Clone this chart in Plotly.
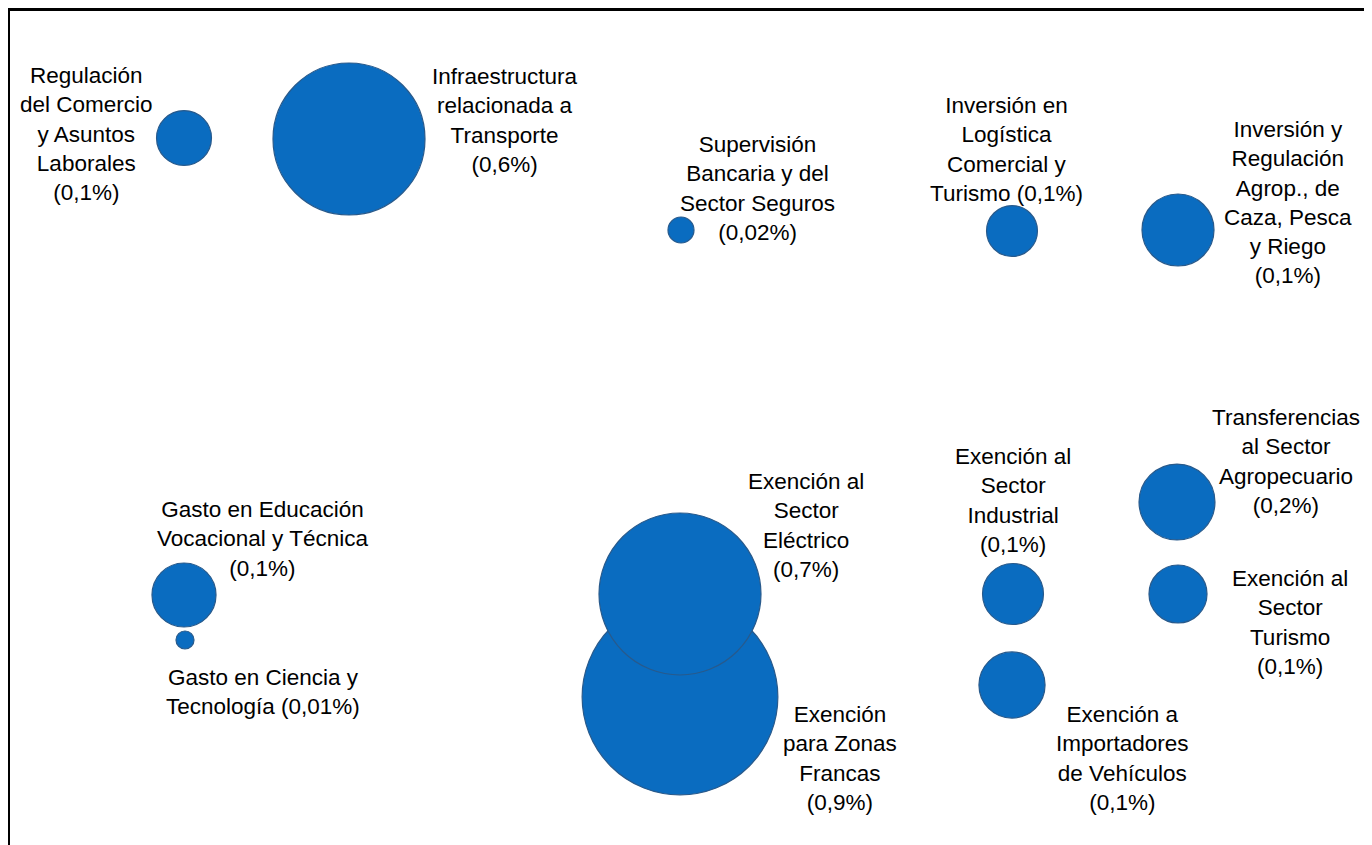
import plotly.graph_objects as go

# Programas y su peso estimado (% del PIB), posiciones en el mapa de burbujas
nombres = [
    "Regulación<br>del Comercio<br>y Asuntos<br>Laborales<br>(0,1%)",
    "Infraestructura<br>relacionada a<br>Transporte<br>(0,6%)",
    "Supervisión<br>Bancaria y del<br>Sector Seguros<br>(0,02%)",
    "Inversión en<br>Logística<br>Comercial y<br>Turismo (0,1%)",
    "Inversión y<br>Regulación<br>Agrop., de<br>Caza, Pesca<br>y Riego<br>(0,1%)",
    "Gasto en Educación<br>Vocacional y Técnica<br>(0,1%)",
    "Gasto en Ciencia y<br>Tecnología (0,01%)",
    "Exención<br>para Zonas<br>Francas<br>(0,9%)",
    "Exención al<br>Sector<br>Eléctrico<br>(0,7%)",
    "Exención al<br>Sector<br>Industrial<br>(0,1%)",
    "Exención a<br>Importadores<br>de Vehículos<br>(0,1%)",
    "Transferencias<br>al Sector<br>Agropecuario<br>(0,2%)",
    "Exención al<br>Sector<br>Turismo<br>(0,1%)",
]
valores = [0.078, 0.597, 0.0175, 0.067, 0.134, 0.106, 0.0084,
           0.99, 0.678, 0.096, 0.113, 0.149, 0.087]
pos_x = [184, 349, 681, 1012, 1178, 184, 185, 680, 680, 1013, 1012, 1177, 1178]
pos_y = [138, 139, 230, 231, 230, 595, 640, 697, 594, 594, 685, 502, 594]

etiqueta_x = [86, 505, 757, 1006, 1288, 262, 263, 840, 806, 1013, 1122, 1286, 1290]
etiqueta_y = [134, 120, 188, 149, 202, 539, 692, 758, 525, 500, 758, 461, 622]

AZUL = '#0A6CC0'
PX2_POR_PUNTO = 38700  # área (px²) de la burbuja por cada 1% del PIB
sizeref = 2 / PX2_POR_PUNTO

fig = go.Figure()

fig.add_trace(go.Scatter(
    x=pos_x, y=pos_y,
    mode='markers',
    marker=dict(size=valores, sizemode='area', sizeref=sizeref,
                color=AZUL, opacity=1,
                line=dict(color='#285A8C', width=1.2)),
    hoverinfo='skip',
    showlegend=False
))

for texto, tx, ty in zip(nombres, etiqueta_x, etiqueta_y):
    fig.add_annotation(
        x=tx, y=ty, text=texto, showarrow=False,
        xanchor='center', yanchor='middle', align='center',
        font=dict(family='Arial, Liberation Sans, sans-serif', size=22.5, color='black')
    )

# la página añade 8 px de margen, por eso la figura es 8 px menor
fig.update_layout(
    width=1364, height=837,
    margin=dict(l=2, r=0, t=3, b=0),
    plot_bgcolor='white', paper_bgcolor='white',
    xaxis=dict(range=[10, 1372], side='top', showline=True, linewidth=3,
               linecolor='black', showgrid=False, zeroline=False,
               showticklabels=False, ticks=''),
    yaxis=dict(range=[845, 11], showline=True, linewidth=3,
               linecolor='black', showgrid=False, zeroline=False,
               showticklabels=False, ticks=''),
)

fig.write_html("out.html")
